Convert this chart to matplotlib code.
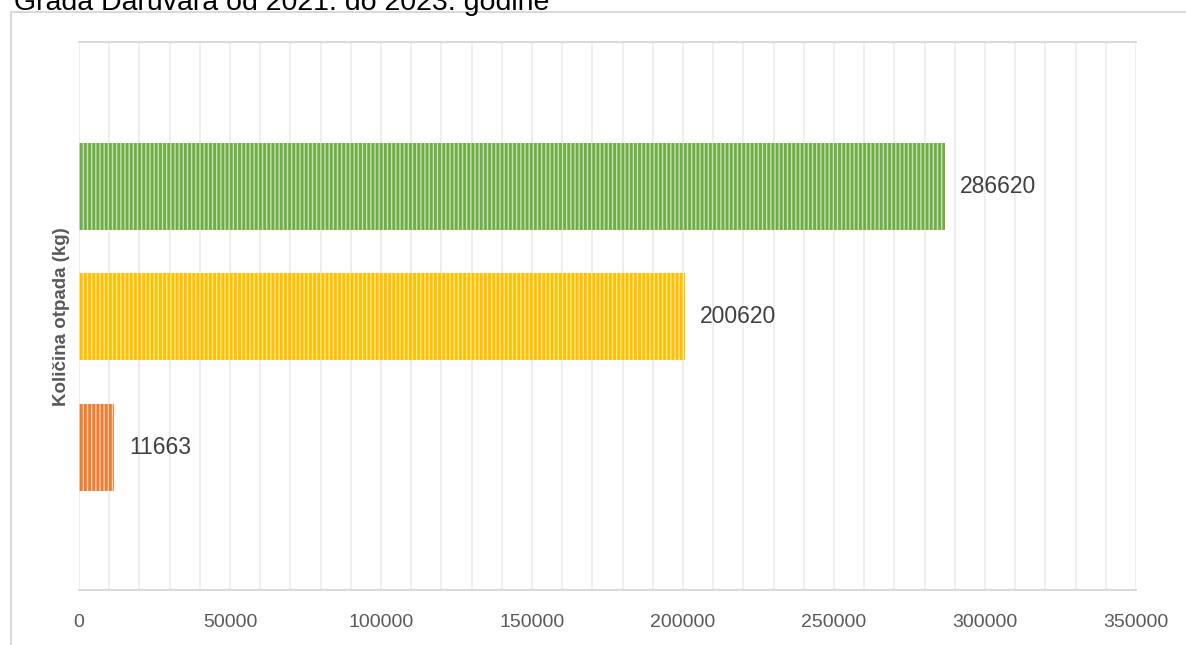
import matplotlib
matplotlib.use("Agg")
import matplotlib.pyplot as plt
from matplotlib.lines import Line2D

plt.rcParams['font.family'] = ['Liberation Sans', 'DejaVu Sans']
plt.rcParams['hatch.linewidth'] = 2.0

# Data
categories = ['2021', '2022', '2023']
values = [11663, 200620, 286620]
face_colors = ['#F8CBAD', '#FFE699', '#C5E0B4']
stripe_colors = ['#ED7D31', '#FFC000', '#70AD47']
title = 'Grada Daruvara od 2021. do 2023. godine'
ylabel = 'Količina otpada (kg)'
xticks = [0, 50000, 100000, 150000, 200000, 250000, 300000, 350000]

W, H = 1186, 645
fig = plt.figure(figsize=(W / 100, H / 100), dpi=100)

# outer chart border (partially visible)
fig.add_artist(Line2D([11 / W, 11 / W], [0, 1 - 12 / H], color='#D9D9D9', lw=1.5))
fig.add_artist(Line2D([11 / W, 1], [1 - 12 / H, 1 - 12 / H], color='#D9D9D9', lw=1.5))

# cropped title (cut off at the top, as in the reference)
fig.text(14 / W, 1 - 10 / H, title, fontsize=20.5, color='#000000',
         ha='left', va='baseline')

ax = fig.add_axes([79 / W, 55 / H, (1136 - 79) / W, (590 - 42) / H])

ypos = list(range(len(categories)))
bars = ax.barh(ypos, values, height=0.668, color=face_colors, edgecolor=stripe_colors,
               linewidth=0, hatch='||||', zorder=3)
for b, ec in zip(bars, stripe_colors):
    b.set_edgecolor(ec)

for y, v in zip(ypos, values):
    ax.text(v + 5000, y, str(v), va='center', ha='left', fontsize=16.5, color='#404040')

ax.set_xlim(0, 350000)
ax.set_ylim(-1.098, 3.11)
ax.set_xticks(xticks)
ax.set_xticklabels([str(t) for t in xticks], fontsize=14, color='#595959')
ax.set_xticks(range(0, 350001, 10000), minor=True)
ax.set_yticks([])
ax.tick_params(axis='x', which='both', length=0, pad=17)
ax.grid(axis='x', which='both', color='#EDEDED', lw=1.3, zorder=0)

for s in ['left', 'right']:
    ax.spines[s].set_visible(False)
ax.spines['bottom'].set_color('#D9D9D9')
ax.spines['bottom'].set_linewidth(1.5)
ax.spines['top'].set_color('#D9D9D9')
ax.spines['top'].set_linewidth(1.5)

fig.text(62 / W, 1 - 317 / H, ylabel, rotation=90, fontsize=13.5, fontweight='bold',
         color='#595959', ha='center', va='center')

fig.savefig('out.png', dpi=100)
